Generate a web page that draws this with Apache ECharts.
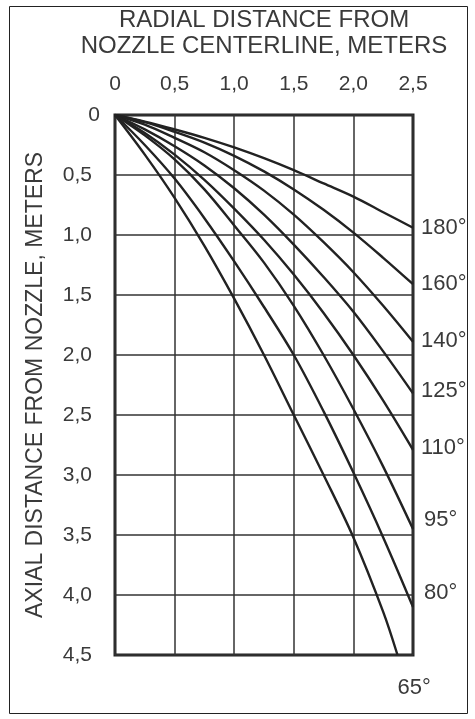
<!DOCTYPE html>
<html>
<head>
<meta charset="utf-8">
<script src="https://cdn.jsdelivr.net/npm/echarts@6/dist/echarts.min.js"></script>
<style>
html,body{margin:0;padding:0;background:#fff;}
#chart{width:475px;height:719px;}
</style>
</head>
<body>
<div id="chart"></div>
<script>
// Radial distance (x, meters) sample positions
var radial = [0, 0.25, 0.5, 0.75, 1.0, 1.25, 1.5, 1.75, 2.0, 2.25, 2.5];
var radial65 = [0, 0.25, 0.5, 0.75, 1.0, 1.25, 1.5, 1.75, 2.0, 2.25, 2.37];
// Axial distance (y, meters) for each spray angle
var axial180 = [0, 0.055, 0.12, 0.19, 0.27, 0.36, 0.46, 0.57, 0.68, 0.81, 0.94];
var axial160 = [0, 0.06, 0.14, 0.23, 0.34, 0.47, 0.62, 0.79, 0.98, 1.19, 1.41];
var axial140 = [0, 0.08, 0.19, 0.31, 0.46, 0.63, 0.83, 1.06, 1.31, 1.59, 1.89];
var axial125 = [0, 0.12, 0.26, 0.42, 0.61, 0.83, 1.08, 1.35, 1.64, 1.97, 2.32];
var axial110 = [0, 0.15, 0.33, 0.54, 0.78, 1.04, 1.33, 1.65, 2.0, 2.38, 2.79];
var axial95  = [0, 0.17, 0.37, 0.62, 0.92, 1.23, 1.59, 2.0, 2.45, 2.93, 3.45];
var axial80  = [0, 0.25, 0.53, 0.86, 1.22, 1.6, 2.0, 2.47, 2.98, 3.52, 4.1];
var axial65  = [0, 0.33, 0.69, 1.09, 1.53, 2.0, 2.5, 3.0, 3.52, 4.14, 4.5];
var angleLabels = ['180°', '160°', '140°', '125°', '110°', '95°', '80°', '65°'];
var xTicks = ['0', '0,5', '1,0', '1,5', '2,0', '2,5'];
var yTicks = ['0', '0,5', '1,0', '1,5', '2,0', '2,5', '3,0', '3,5', '4,0', '4,5'];

var curves = [
  {x: radial, y: axial180, off: [0, 0]},
  {x: radial, y: axial160, off: [0, 0]},
  {x: radial, y: axial140, off: [0, -1]},
  {x: radial, y: axial125, off: [0, -2]},
  {x: radial, y: axial110, off: [0, -2]},
  {x: radial, y: axial95,  off: [3, -9]},
  {x: radial, y: axial80,  off: [3, -14]},
  {x: radial65, y: axial65, off: [-8, 33]}
];

var ink = '#222';
var textCol = '#3a3a3a';
var font = 'Liberation Sans, Arial, sans-serif';

var series = curves.map(function (c, i) {
  return {
    type: 'line',
    smooth: 0.35,
    showSymbol: false,
    symbol: 'none',
    silent: true,
    lineStyle: {color: ink, width: 2.4},
    data: c.x.map(function (xv, k) { return [xv, c.y[k]]; }),
    endLabel: {
      show: true,
      formatter: angleLabels[i],
      color: textCol,
      fontSize: 22,
      fontFamily: font,
      offset: c.off
    },
    z: 5
  };
});

var chart = echarts.init(document.getElementById('chart'), null, {renderer: 'canvas'});
chart.setOption({
  animation: false,
  backgroundColor: '#fff',
  title: {
    text: 'RADIAL DISTANCE FROM\nNOZZLE CENTERLINE, METERS',
    left: 259,
    top: 2,
    textAlign: 'center',
    textStyle: {fontSize: 24, fontWeight: 'normal', color: textCol, fontFamily: font, lineHeight: 26}
  },
  graphic: [{
    type: 'rect',
    shape: {x: 9.5, y: 6.5, width: 458, height: 707},
    style: {fill: 'none', stroke: '#222', lineWidth: 1},
    z: -1,
    silent: true
  }],
  grid: {
    left: 115, right: 62, top: 115, bottom: 64,
    show: true, borderColor: ink, borderWidth: 3, backgroundColor: 'transparent'
  },
  xAxis: {
    type: 'value', position: 'top', min: 0, max: 2.5, interval: 0.5,
    axisLine: {show: false}, axisTick: {show: false},
    splitLine: {show: true, lineStyle: {color: '#333', width: 1.5}},
    axisLabel: {
      margin: 20, fontSize: 21, color: textCol, fontFamily: font,
      formatter: function (v) { return xTicks[Math.round(v / 0.5)]; }
    }
  },
  yAxis: {
    type: 'value', inverse: true, min: 0, max: 4.5, interval: 0.5,
    axisLine: {show: false}, axisTick: {show: false},
    splitLine: {show: true, lineStyle: {color: '#333', width: 1.5}},
    name: 'AXIAL DISTANCE FROM NOZZLE, METERS',
    nameLocation: 'middle', nameGap: 68, nameRotate: 90,
    nameTextStyle: {fontSize: 23, color: textCol, fontFamily: font},
    axisLabel: {
      margin: 15, fontSize: 21, color: textCol, fontFamily: font,
      formatter: function (v) {
        var t = yTicks[Math.round(v / 0.5)];
        return v === 0 ? '{z|' + t + '}' : '{a|' + t + '}';
      },
      rich: {
        z: {fontSize: 21, color: textCol, fontFamily: font, padding: [0, 0, 0, 0]},
        a: {fontSize: 21, color: textCol, fontFamily: font, padding: [0, 8, 0, 0]}
      }
    }
  },
  series: series
});
</script>
</body>
</html>
